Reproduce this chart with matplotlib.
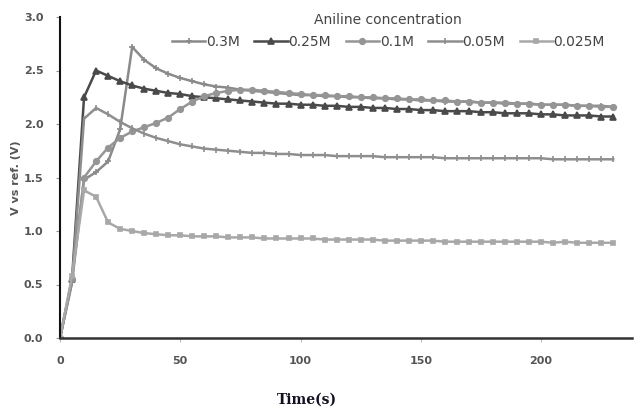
import numpy as np
import matplotlib
matplotlib.use("Agg")
import matplotlib.pyplot as plt

# time axis, one reading every 5 s
time_s = np.arange(0, 235, 5)

v_03 = [0.0, 0.52, 1.48, 1.55, 1.65, 1.95, 2.72, 2.60, 2.52, 2.47,
        2.43, 2.40, 2.37, 2.35, 2.34, 2.32, 2.31, 2.30, 2.29, 2.28,
        2.27, 2.27, 2.26, 2.26, 2.25, 2.25, 2.24, 2.24, 2.23, 2.23,
        2.22, 2.22, 2.21, 2.21, 2.21, 2.20, 2.20, 2.19, 2.19, 2.19,
        2.18, 2.18, 2.18, 2.17, 2.17, 2.17, 2.16]
v_025 = [0.0, 0.55, 2.25, 2.50, 2.45, 2.40, 2.36, 2.33, 2.31, 2.29,
         2.28, 2.26, 2.25, 2.24, 2.23, 2.22, 2.21, 2.20, 2.19, 2.19,
         2.18, 2.18, 2.17, 2.17, 2.16, 2.16, 2.15, 2.15, 2.14, 2.14,
         2.13, 2.13, 2.12, 2.12, 2.12, 2.11, 2.11, 2.10, 2.10, 2.10,
         2.09, 2.09, 2.08, 2.08, 2.08, 2.07, 2.07]
v_01 = [0.0, 0.55, 1.50, 1.65, 1.78, 1.87, 1.93, 1.97, 2.01, 2.06,
        2.14, 2.21, 2.26, 2.29, 2.31, 2.32, 2.32, 2.31, 2.30, 2.29,
        2.28, 2.27, 2.27, 2.26, 2.26, 2.25, 2.25, 2.24, 2.24, 2.23,
        2.23, 2.22, 2.22, 2.21, 2.21, 2.20, 2.20, 2.20, 2.19, 2.19,
        2.18, 2.18, 2.18, 2.17, 2.17, 2.16, 2.16]
v_005 = [0.0, 0.52, 2.05, 2.15, 2.09, 2.02, 1.96, 1.91, 1.87, 1.84,
         1.81, 1.79, 1.77, 1.76, 1.75, 1.74, 1.73, 1.73, 1.72, 1.72,
         1.71, 1.71, 1.71, 1.70, 1.70, 1.70, 1.70, 1.69, 1.69, 1.69,
         1.69, 1.69, 1.68, 1.68, 1.68, 1.68, 1.68, 1.68, 1.68, 1.68,
         1.68, 1.67, 1.67, 1.67, 1.67, 1.67, 1.67]
v_0025 = [0.0, 0.58, 1.38, 1.32, 1.08, 1.02, 1.00, 0.98, 0.97, 0.96,
          0.96, 0.95, 0.95, 0.95, 0.94, 0.94, 0.94, 0.93, 0.93, 0.93,
          0.93, 0.93, 0.92, 0.92, 0.92, 0.92, 0.92, 0.91, 0.91, 0.91,
          0.91, 0.91, 0.90, 0.90, 0.90, 0.90, 0.90, 0.90, 0.90, 0.90,
          0.90, 0.89, 0.90, 0.89, 0.89, 0.89, 0.89]

labels = ["0.3M", "0.25M", "0.1M", "0.05M", "0.025M"]
series = [v_03, v_025, v_01, v_005, v_0025]
colors = ["#8a8a8a", "#4a4a4a", "#959595", "#8e8e8e", "#a8a8a8"]
markers = ["+", "^", "o", "|", "s"]
msizes = [4.5, 4, 4, 4.5, 3.5]

fig = plt.figure(figsize=(6.37, 4.12), dpi=100)
ax = fig.add_axes([60/637, 1-338/412, 572/637, 321/412])

for y, lab, c, m, ms in zip(series, labels, colors, markers, msizes):
    ax.plot(time_s, y, color=c, lw=1.8, marker=m, ms=ms, mec=c, mfc=c,
            mew=1.2, label=lab)

ax.set_xlim(0, 237.8)
ax.set_ylim(0, 3.0)
ax.set_xticks([0, 50, 100, 150, 200])
ax.set_yticks(np.arange(0, 3.01, 0.5))
ax.yaxis.set_major_formatter(matplotlib.ticker.FormatStrFormatter("%.1f"))

for s in ["top", "right"]:
    ax.spines[s].set_visible(False)
ax.spines["left"].set_linewidth(1.5)
ax.spines["left"].set_color("#111111")
ax.spines["bottom"].set_linewidth(1.8)
ax.spines["bottom"].set_color("#333333")

ax.tick_params(axis="y", length=3, width=0.8, color="#999999", pad=9,
               labelsize=8, labelcolor="#555555")
ax.tick_params(axis="x", length=3, width=0.8, color="#bbbbbb", pad=10,
               labelsize=8, labelcolor="#555555")
for t in ax.get_xticklabels() + ax.get_yticklabels():
    t.set_fontweight("bold")

ax.set_ylabel("V vs ref. (V)", fontsize=8, fontweight="bold", color="#555555",
              labelpad=2)
fig.text(307/637, 1-400/412, "Time(s)", ha="center", va="center",
         fontsize=10, fontweight="bold", family="DejaVu Serif", color="#111122")

leg = ax.legend(loc="center left", bbox_to_anchor=(172/637, 1-42/412),
                bbox_transform=fig.transFigure, ncol=5, frameon=False,
                fontsize=10, handlelength=2.4, handletextpad=0.05,
                columnspacing=1.05, borderaxespad=0, borderpad=0)
for t in leg.get_texts():
    t.set_color("#444444")
fig.text(388/637, 1-20/412, "Aniline concentration", ha="center",
         va="center", fontsize=10, color="#444444")

fig.savefig("out.png", dpi=100)
